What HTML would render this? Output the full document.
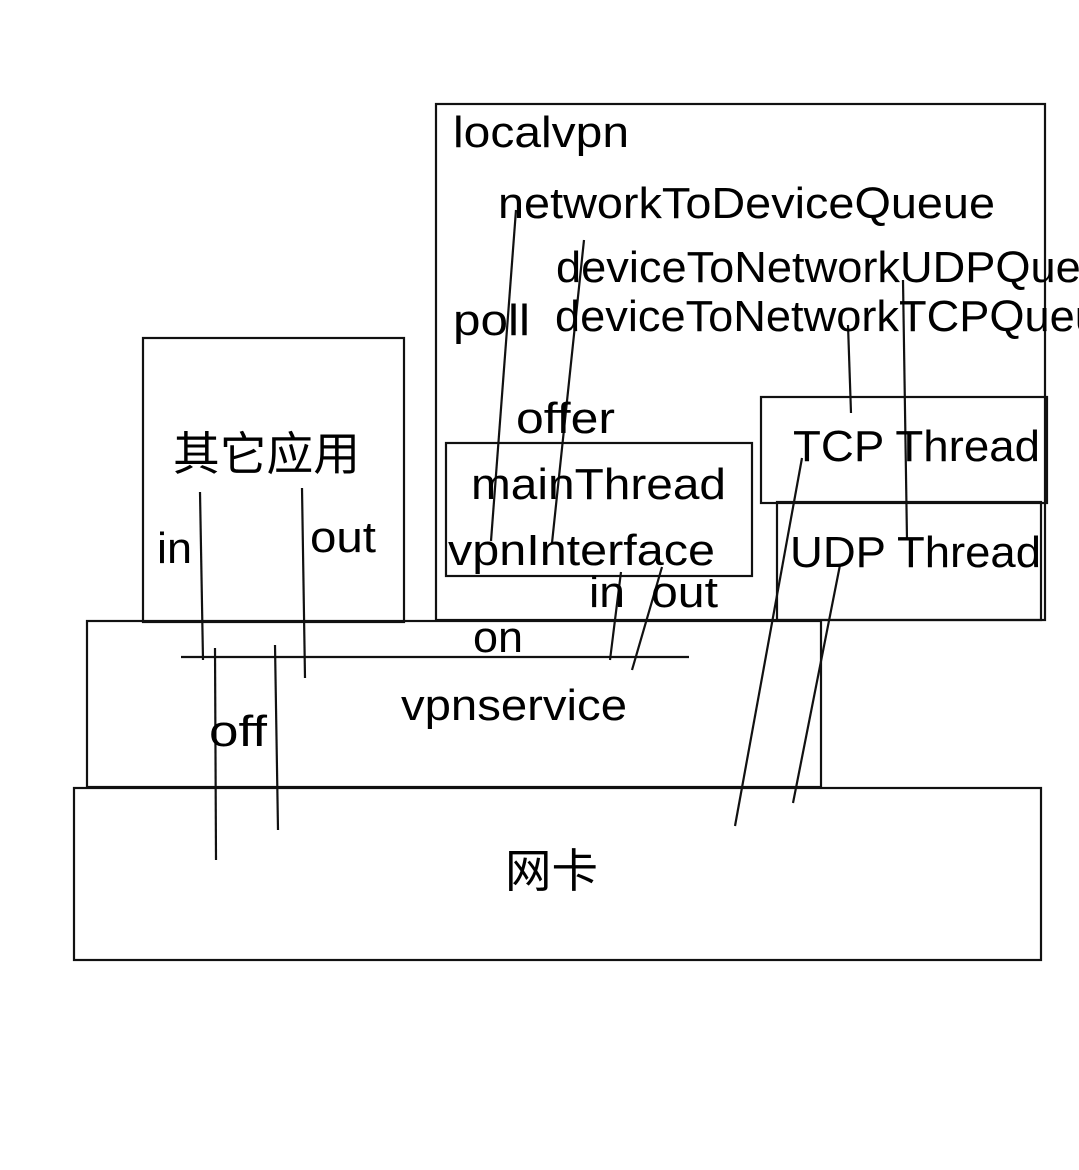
<!DOCTYPE html>
<html><head><meta charset="utf-8"><style>
html,body{margin:0;padding:0;background:#fff;}
svg{display:block;}
text{font-family:"Liberation Sans","Noto Sans CJK SC",sans-serif;font-size:44px;fill:#000;}
</style></head><body>
<svg width="1079" height="1170" viewBox="0 0 1079 1170" xmlns="http://www.w3.org/2000/svg">
<rect width="1079" height="1170" fill="#fff"/>
<g fill="none" stroke="#111" stroke-width="2.2">
<rect x="436" y="104" width="609" height="516"/>
<rect x="143" y="338" width="261" height="284"/>
<rect x="87" y="621" width="734" height="166"/>
<rect x="74" y="788" width="967" height="172"/>
<rect x="446" y="443" width="306" height="133"/>
<rect x="761" y="397" width="286" height="106"/>
<rect x="777" y="502" width="264" height="118"/>
<line x1="516" y1="210" x2="491" y2="541"/>
<line x1="584" y1="240" x2="552" y2="543"/>
<line x1="848" y1="325" x2="851" y2="413"/>
<line x1="903" y1="280" x2="907" y2="540"/>
<line x1="200" y1="492" x2="203" y2="660"/>
<line x1="302" y1="488" x2="305" y2="678"/>
<line x1="181" y1="657" x2="689" y2="657"/>
<line x1="215" y1="648" x2="216" y2="860"/>
<line x1="275" y1="645" x2="278" y2="830"/>
<line x1="621" y1="572" x2="610" y2="660"/>
<line x1="662" y1="567" x2="632" y2="670"/>
<line x1="802" y1="458" x2="735" y2="826"/>
<line x1="840" y1="565" x2="793" y2="803"/>
</g>
<text x="453" y="147" textLength="176" lengthAdjust="spacingAndGlyphs">localvpn</text>
<text x="498" y="218" textLength="497" lengthAdjust="spacingAndGlyphs">networkToDeviceQueue</text>
<text x="556" y="282" textLength="575" lengthAdjust="spacingAndGlyphs">deviceToNetworkUDPQueue</text>
<text x="555" y="331" textLength="570" lengthAdjust="spacingAndGlyphs">deviceToNetworkTCPQueue</text>
<text x="453" y="335" textLength="77" lengthAdjust="spacingAndGlyphs">poll</text>
<text x="516" y="433" textLength="99" lengthAdjust="spacingAndGlyphs">offer</text>
<text x="471" y="499" textLength="255" lengthAdjust="spacingAndGlyphs">mainThread</text>
<text x="448" y="565" textLength="267" lengthAdjust="spacingAndGlyphs">vpnInterface</text>
<text x="793" y="461" textLength="247" lengthAdjust="spacingAndGlyphs">TCP Thread</text>
<text x="790" y="567" textLength="251" lengthAdjust="spacingAndGlyphs">UDP Thread</text>
<text x="589" y="607" textLength="36" lengthAdjust="spacingAndGlyphs">in</text>
<text x="651" y="607" textLength="67" lengthAdjust="spacingAndGlyphs">out</text>
<text x="473" y="652" textLength="50" lengthAdjust="spacingAndGlyphs">on</text>
<text x="401" y="720" textLength="226" lengthAdjust="spacingAndGlyphs">vpnservice</text>
<text x="209" y="746" textLength="58" lengthAdjust="spacingAndGlyphs">off</text>
<text x="157" y="563" textLength="35" lengthAdjust="spacingAndGlyphs">in</text>
<text x="310" y="552" textLength="66" lengthAdjust="spacingAndGlyphs">out</text>
<text x="173" y="470" style="font-size:46px" textLength="187" lengthAdjust="spacingAndGlyphs">其它应用</text>
<text x="505" y="887" style="font-size:46px" textLength="93" lengthAdjust="spacingAndGlyphs">网卡</text>
</svg>
</body></html>
